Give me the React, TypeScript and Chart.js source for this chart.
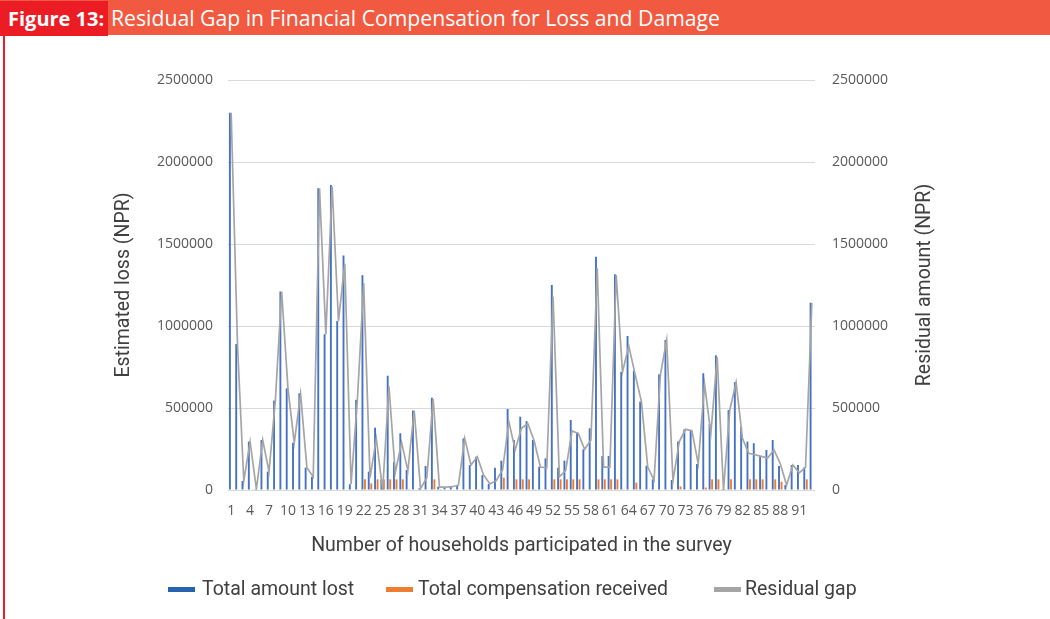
import React, { useEffect, useRef } from "react";
import { Chart, registerables } from "chart.js";

Chart.register(...registerables);

// Household numbers along the x axis
const households: string[] = [
  "1", "2", "3", "4", "5", "6", "7", "8", "9", "10",
  "11", "12", "13", "14", "15", "16", "17", "18", "19", "20",
  "21", "22", "23", "24", "25", "26", "27", "28", "29", "30",
  "31", "32", "33", "34", "35", "36", "37", "38", "39", "40",
  "41", "42", "43", "44", "45", "46", "47", "48", "49", "50",
  "51", "52", "53", "54", "55", "56", "57", "58", "59", "60",
  "61", "62", "63", "64", "65", "66", "67", "68", "69", "70",
  "71", "72", "73", "74", "75", "76", "77", "78", "79", "80",
  "81", "82", "83", "84", "85", "86", "87", "88", "89", "90",
  "91", "92", "93",
];

// Total amount lost per household (NPR)
const totalLost: number[] = [
  2300000, 890000, 55000, 295000, 5000, 305000, 112000, 545000, 1210000, 620000,
  288000, 590000, 136000, 81000, 1840000, 950000, 1860000, 1030000, 1430000, 35000,
  550000, 1310000, 112000, 380000, 65000, 697000, 170000, 346000, 122000, 484000,
  10000, 146000, 563000, 20000, 18000, 20000, 28000, 315000, 152000, 203000,
  91000, 37000, 136000, 179000, 494000, 305000, 447000, 420000, 305000, 142000,
  193000, 1250000, 136000, 179000, 427000, 350000, 248000, 376000, 1423000, 207000,
  207000, 1315000, 721000, 939000, 727000, 539000, 148000, 65000, 705000, 915000,
  61000, 295000, 370000, 362000, 159000, 712000, 402000, 821000, 5000, 488000,
  657000, 386000, 295000, 285000, 207000, 244000, 305000, 146000, 30000, 152000,
  152000, 138000, 1142000,
];

// Total compensation received per household (NPR)
const compensationReceived: number[] = [
  0, 0, 0, 0, 0, 0, 0, 0, 0, 0,
  0, 0, 0, 0, 0, 0, 0, 0, 0, 0,
  0, 65000, 40000, 65000, 65000, 65000, 65000, 65000, 5000, 0,
  3000, 0, 65000, 5000, 0, 0, 0, 5000, 0, 5000,
  0, 0, 0, 75000, 0, 65000, 65000, 65000, 5000, 0,
  5000, 65000, 65000, 65000, 65000, 65000, 0, 0, 65000, 65000,
  65000, 65000, 5000, 0, 45000, 0, 0, 0, 3000, 3000,
  0, 22000, 0, 0, 0, 15000, 65000, 65000, 5000, 65000,
  0, 0, 65000, 65000, 65000, 0, 65000, 50000, 0, 0,
  3000, 65000, 0,
];

// Residual gap per household (NPR)
const residualGap: number[] = [
  2300000, 890000, 55000, 295000, 5000, 305000, 112000, 545000, 1210000, 620000,
  288000, 585000, 136000, 81000, 1840000, 950000, 1850000, 1030000, 1380000, 35000,
  550000, 1260000, 75000, 313000, 0, 632000, 105000, 290000, 117000, 484000,
  8000, 75000, 555000, 18000, 18000, 20000, 28000, 315000, 152000, 203000,
  91000, 37000, 57000, 122000, 417000, 245000, 376000, 405000, 300000, 140000,
  135000, 1180000, 80000, 118000, 360000, 345000, 248000, 305000, 1352000, 140000,
  140000, 1310000, 720000, 878000, 705000, 539000, 140000, 60000, 700000, 915000,
  55000, 295000, 370000, 362000, 159000, 646000, 345000, 810000, 0, 488000,
  657000, 315000, 224000, 215000, 205000, 195000, 245000, 160000, 30000, 152000,
  105000, 138000, 1140000,
];

const BLUE = "#4472C4";
const ORANGE = "#ED7D31";
const GREY = "#A5A5A5";
const TICK_COLOR = "#595959";
const TITLE_COLOR = "#404040";

const TICK_FONT = { family: "'Open Sans', sans-serif", size: 14 };
const TITLE_FONT = { family: "Roboto, sans-serif", size: 19.5 };

// Plain integers on the value axes (no thousands separators)
const plainNumber = (v: any) => String(v);

// Secondary axis title reads bottom-to-top, like the primary one
const rightAxisTitle = {
  id: "rightAxisTitle",
  afterDraw(chart: any) {
    const s = chart.scales.y1;
    const ctx = chart.ctx as CanvasRenderingContext2D;
    ctx.save();
    ctx.translate(s.right - 125, (s.top + s.bottom) / 2);
    ctx.rotate(-Math.PI / 2);
    ctx.font = "19.5px Roboto, sans-serif";
    ctx.fillStyle = TITLE_COLOR;
    ctx.textAlign = "center";
    ctx.textBaseline = "middle";
    ctx.fillText("Residual amount (NPR)", 0, 0);
    ctx.restore();
  },
};

const legendItems = [
  { label: "Total amount lost", color: "#2563AE", box: 168, text: 202 },
  { label: "Total compensation received", color: ORANGE, box: 386, text: 418 },
  { label: "Residual gap", color: GREY, box: 714, text: 745 },
];

export default function App() {
  const canvasRef = useRef<HTMLCanvasElement>(null);

  useEffect(() => {
    if (!canvasRef.current) return;
    const chart = new Chart(canvasRef.current, {
      type: "bar",
      data: {
        labels: households,
        datasets: [
          {
            type: "line",
            label: "Residual gap",
            data: residualGap,
            yAxisID: "y1",
            borderColor: GREY,
            backgroundColor: GREY,
            borderWidth: 1.7,
            pointRadius: 0,
            pointHoverRadius: 0,
            tension: 0,
            order: 0,
          } as any,
          {
            type: "bar",
            label: "Total amount lost",
            data: totalLost,
            yAxisID: "y",
            backgroundColor: BLUE,
            categoryPercentage: 0.8,
            barPercentage: 0.75,
            order: 1,
          },
          {
            type: "bar",
            label: "Total compensation received",
            data: compensationReceived,
            yAxisID: "y",
            backgroundColor: ORANGE,
            categoryPercentage: 0.8,
            barPercentage: 0.75,
            order: 1,
          },
        ],
      },
      options: {
        responsive: false,
        animation: false,
        devicePixelRatio: 1,
        layout: { padding: { top: 80, bottom: 0, left: 0, right: 0 } },
        plugins: {
          legend: { display: false },
          tooltip: { enabled: false },
        },
        scales: {
          x: {
            offset: true,
            grid: { display: false, drawTicks: false },
            border: { display: false },
            ticks: {
              autoSkip: false,
              maxRotation: 0,
              minRotation: 0,
              padding: 13,
              color: TICK_COLOR,
              font: TICK_FONT,
              callback: (_v: any, i: number) => (i % 3 === 0 ? households[i] : ""),
            },
            title: {
              display: true,
              text: "Number of households participated in the survey",
              color: TITLE_COLOR,
              font: TITLE_FONT,
              padding: { top: 0, bottom: 61 },
            },
            afterFit: (s: any) => {
              s.height = 129;
            },
          },
          y: {
            position: "left",
            min: 0,
            max: 2500000,
            grid: { color: "#D9D9D9", lineWidth: 1, drawTicks: false },
            border: { display: false },
            ticks: {
              stepSize: 500000,
              padding: 15,
              color: TICK_COLOR,
              font: TICK_FONT,
              callback: plainNumber,
            },
            title: {
              display: true,
              text: "Estimated loss (NPR)",
              color: TITLE_COLOR,
              font: TITLE_FONT,
              padding: { top: 112, bottom: 0 },
            },
            afterFit: (s: any) => {
              s.width = 228;
            },
          },
          y1: {
            position: "right",
            min: 0,
            max: 2500000,
            grid: { display: false, drawTicks: false },
            border: { display: false },
            ticks: {
              stepSize: 500000,
              padding: 17,
              color: TICK_COLOR,
              font: TICK_FONT,
              callback: plainNumber,
            },
            afterFit: (s: any) => {
              s.width = 235;
            },
          },
        },
      } as any,
      plugins: [rightAxisTitle],
    });
    return () => chart.destroy();
  }, []);

  return (
    <div
      style={{
        position: "absolute",
        left: 0,
        top: 0,
        width: 1050,
        height: 619,
        background: "#ffffff",
        overflow: "hidden",
      }}
    >
      <canvas
        ref={canvasRef}
        width={1050}
        height={619}
        style={{ position: "absolute", left: 0, top: 0, width: 1050, height: 619 }}
      />
      {/* Figure heading band */}
      <div
        style={{
          position: "absolute",
          left: 0,
          top: 0,
          width: 1050,
          height: 35,
          background: "#F15A40",
          fontFamily: "'Open Sans', sans-serif",
          lineHeight: "35px",
          color: "#ffffff",
          whiteSpace: "nowrap",
        }}
      >
        <span
          style={{
            display: "inline-block",
            width: 100,
            paddingLeft: 8,
            background: "#EC1C24",
            fontWeight: 700,
            fontSize: 20,
          }}
        >
          Figure 13:
        </span>
        <span style={{ paddingLeft: 3, fontSize: 21.2 }}>
          Residual Gap in Financial Compensation for Loss and Damage
        </span>
      </div>
      {/* Left rule */}
      <div
        style={{
          position: "absolute",
          left: 3,
          top: 35,
          width: 2,
          height: 584,
          background: "#EC1C24",
        }}
      />
      {/* Legend */}
      {legendItems.map((it) => (
        <React.Fragment key={it.label}>
          <div
            style={{
              position: "absolute",
              left: it.box,
              top: 587,
              width: 27,
              height: 5,
              background: it.color,
            }}
          />
          <div
            style={{
              position: "absolute",
              left: it.text,
              top: 577,
              height: 24,
              lineHeight: "24px",
              fontFamily: "Roboto, sans-serif",
              fontSize: 19.5,
              color: TITLE_COLOR,
              whiteSpace: "nowrap",
            }}
          >
            {it.label}
          </div>
        </React.Fragment>
      ))}
    </div>
  );
}
